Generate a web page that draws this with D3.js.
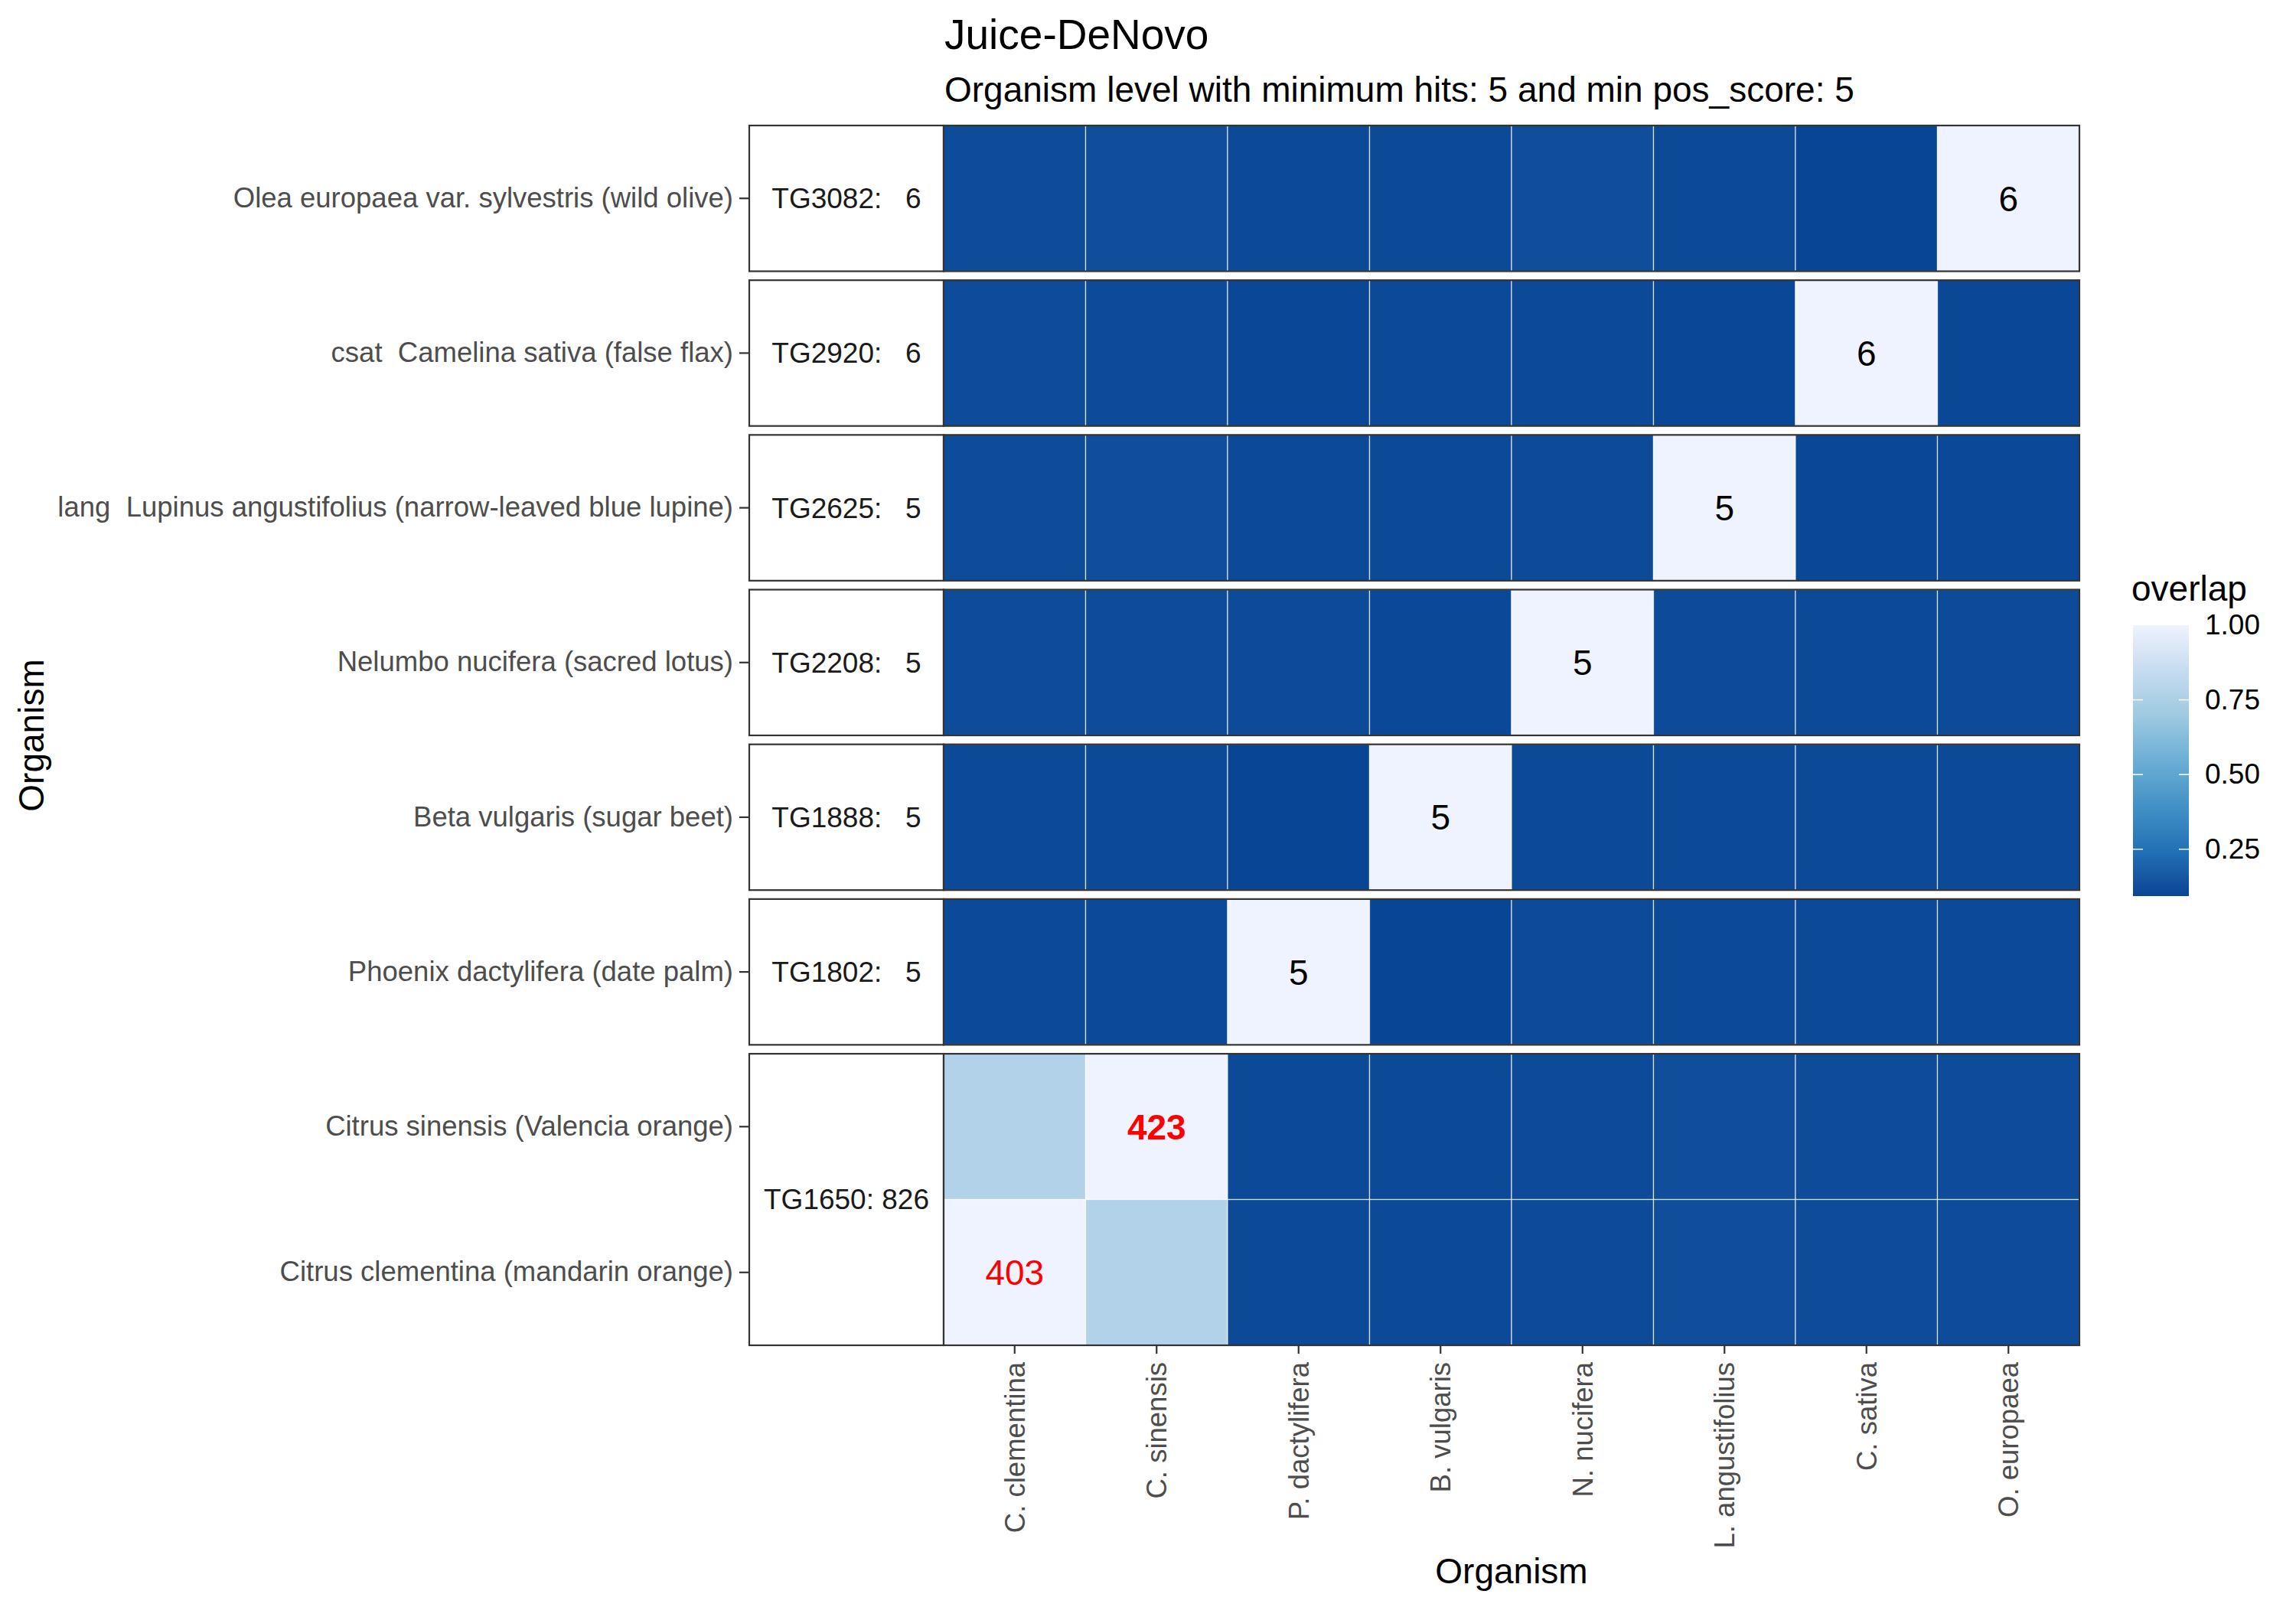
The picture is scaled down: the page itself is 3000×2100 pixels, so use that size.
<!DOCTYPE html>
<html>
<head>
<meta charset="utf-8">
<script src="https://cdn.jsdelivr.net/npm/d3@7"></script>
<style>
  body { margin: 0; background: #fff; }
  text { font-family: "Liberation Sans", Arial, sans-serif; }
</style>
</head>
<body>
<svg id="chart" width="3000" height="2100"></svg>
<script>
// columns (x axis)
const cols = ["C. clementina", "C. sinensis", "P. dactylifera", "B. vulgaris",
              "N. nucifera", "L. angustifolius", "C. sativa", "O. europaea"];

// rows, top to bottom
const rows = ["Olea europaea var. sylvestris (wild olive)",
              "csat  Camelina sativa (false flax)",
              "lang  Lupinus angustifolius (narrow-leaved blue lupine)",
              "Nelumbo nucifera (sacred lotus)",
              "Beta vulgaris (sugar beet)",
              "Phoenix dactylifera (date palm)",
              "Citrus sinensis (Valencia orange)",
              "Citrus clementina (mandarin orange)"];
const rowGroup = ["TG3082", "TG2920", "TG2625", "TG2208", "TG1888", "TG1802", "TG1650", "TG1650"];
const rowHits  = [6, 6, 5, 5, 5, 5, 423, 403];

const groups    = ["TG3082", "TG2920", "TG2625", "TG2208", "TG1888", "TG1802", "TG1650"];
const groupHits = [6, 6, 5, 5, 5, 5, 826];

// overlap, one array per row
const overlap = [
  [0.118, 0.126, 0.108, 0.108, 0.126, 0.108, 0.093, 1.000],
  [0.118, 0.113, 0.100, 0.108, 0.108, 0.100, 1.000, 0.099],
  [0.118, 0.126, 0.108, 0.108, 0.113, 1.000, 0.099, 0.105],
  [0.118, 0.118, 0.113, 0.105, 1.000, 0.113, 0.108, 0.113],
  [0.108, 0.108, 0.093, 1.000, 0.108, 0.108, 0.108, 0.108],
  [0.108, 0.108, 1.000, 0.093, 0.113, 0.108, 0.108, 0.108],
  [0.770, 1.000, 0.108, 0.108, 0.113, 0.126, 0.118, 0.118],
  [1.000, 0.770, 0.108, 0.108, 0.113, 0.126, 0.118, 0.118]
];
const legendTicks = [0.25, 0.50, 0.75, 1.00];

const title = "Juice-DeNovo";
const subtitle = "Organism level with minimum hits: 5 and min pos_score: 5";
const axisTitle = "Organism";

// layout
const pLeft = 1233, pRight = 2717, pTop = 164, pBottom = 1758;
const stripX = 979, gap = 11.7;
const fontTick = 36.5, fontStrip = 37, fontTitle = 46, fontLabel = 46;

const svg = d3.select("#chart");

const flat = overlap.flat();
const vmin = d3.min(flat), vmax = d3.max(flat);
const blues = ["#084594", "#2171B5", "#4292C6", "#6BAED6", "#9ECAE1", "#C6DBEF", "#EFF3FF"];
const color = d3.scaleLinear()
  .domain(blues.map((c, i) => vmin + (vmax - vmin) * i / (blues.length - 1)))
  .range(blues)
  .interpolate(d3.interpolateLab);

const x = d3.scaleBand().domain(cols).range([pLeft, pRight]);

const unit = (pBottom - pTop - gap * (groups.length - 1)) / rows.length;
let cursor = pTop;
const panels = groups.map((g, gi) => {
  const members = rows.filter((r, i) => rowGroup[i] === g);
  const y0 = cursor, y1 = cursor + members.length * unit;
  cursor = y1 + gap;
  return { g, hits: groupHits[gi], members, y0, y1,
           y: d3.scaleBand().domain(members).range([y0, y1]) };
});

panels.forEach(p => {
  const gp = svg.append("g");

  // strip box on the left
  gp.append("rect")
    .attr("x", stripX).attr("y", p.y0)
    .attr("width", pLeft - stripX).attr("height", p.y1 - p.y0)
    .attr("fill", "#fff").attr("stroke", "#333333").attr("stroke-width", 2.2);
  gp.append("text")
    .attr("x", (stripX + pLeft) / 2).attr("y", (p.y0 + p.y1) / 2)
    .attr("dy", "0.35em").attr("text-anchor", "middle")
    .attr("xml:space", "preserve").style("white-space", "pre")
    .attr("font-size", fontStrip).attr("fill", "#1A1A1A")
    .text(`${p.g}: ${String(p.hits).padStart(3, " ")}`);

  // tiles
  const cells = [];
  p.members.forEach(r => {
    const ri = rows.indexOf(r);
    cols.forEach((c, ci) => cells.push({ r, c, v: overlap[ri][ci], hits: rowHits[ri] }));
  });
  gp.selectAll("rect.tile").data(cells).join("rect")
    .attr("class", "tile")
    .attr("x", d => x(d.c)).attr("y", d => p.y(d.r))
    .attr("width", x.bandwidth()).attr("height", p.y.bandwidth())
    .attr("fill", d => color(d.v))
    .attr("stroke", "#fff").attr("stroke-opacity", 0.7).attr("stroke-width", 1.3);

  // hit counts on the self cells
  const multi = p.members.length > 1;
  const best = d3.max(cells, d => d.hits);
  gp.selectAll("text.lab").data(cells.filter(d => d.v === 1)).join("text")
    .attr("class", "lab")
    .attr("x", d => x(d.c) + x.bandwidth() / 2)
    .attr("y", d => p.y(d.r) + p.y.bandwidth() / 2)
    .attr("dy", "0.36em").attr("text-anchor", "middle")
    .attr("font-size", fontLabel)
    .attr("fill", multi ? "#FF0000" : "#000")
    .attr("font-weight", d => multi && d.hits === best ? "bold" : "normal")
    .text(d => d.hits);

  // panel border
  gp.append("rect")
    .attr("x", pLeft).attr("y", p.y0)
    .attr("width", pRight - pLeft).attr("height", p.y1 - p.y0)
    .attr("fill", "none").attr("stroke", "#333333").attr("stroke-width", 2.2);

  // y axis (left of the strip)
  const ya = gp.append("g")
    .attr("transform", `translate(${stripX - 1},0)`)
    .call(d3.axisLeft(p.y).tickSize(12).tickPadding(8));
  ya.select(".domain").remove();
  ya.selectAll("line").attr("stroke", "#333333").attr("stroke-width", 2.2);
  ya.selectAll("text")
    .attr("xml:space", "preserve").style("white-space", "pre")
    .attr("font-size", fontTick).attr("fill", "#4D4D4D")
    .attr("font-family", "Liberation Sans, Arial, sans-serif");
});

// x axis
const xa = svg.append("g")
  .attr("transform", `translate(0,${pBottom})`)
  .call(d3.axisBottom(x).tickSize(11).tickPadding(8));
xa.select(".domain").remove();
xa.selectAll("line").attr("stroke", "#333333").attr("stroke-width", 2.2);
xa.selectAll("text")
  .attr("transform", "rotate(-90)")
  .attr("x", -22).attr("y", 0).attr("dy", "0.35em")
  .attr("text-anchor", "end")
  .attr("font-size", fontTick).attr("fill", "#4D4D4D")
  .attr("font-family", "Liberation Sans, Arial, sans-serif");

// titles
svg.append("text").attr("x", 1234).attr("y", 64)
  .attr("font-size", 55).attr("fill", "#000").text(title);
svg.append("text").attr("x", 1234).attr("y", 133)
  .attr("font-size", fontTitle).attr("fill", "#000").text(subtitle);
svg.append("text").attr("x", (pLeft + pRight) / 2).attr("y", 2069)
  .attr("text-anchor", "middle").attr("font-size", fontTitle).attr("fill", "#000")
  .text(axisTitle);
svg.append("text")
  .attr("transform", `translate(${57},${(pTop + pBottom) / 2}) rotate(-90)`)
  .attr("text-anchor", "middle").attr("font-size", fontTitle).attr("fill", "#000")
  .text(axisTitle);

// legend
const lgX = 2787, lgW = 73, lgTop = 817, lgBottom = 1171;
const ly = d3.scaleLinear().domain([vmin, vmax]).range([lgBottom, lgTop]);
const grad = svg.append("defs").append("linearGradient")
  .attr("id", "lg").attr("x1", 0).attr("y1", 1).attr("x2", 0).attr("y2", 0);
d3.range(0, 1.0001, 0.02).forEach(t => {
  grad.append("stop").attr("offset", t).attr("stop-color", color(vmin + t * (vmax - vmin)));
});
const lg = svg.append("g");
lg.append("text").attr("x", lgX - 2).attr("y", 785)
  .attr("font-size", fontTitle).attr("fill", "#000").text("overlap");
lg.append("rect").attr("x", lgX).attr("y", lgTop)
  .attr("width", lgW).attr("height", lgBottom - lgTop).attr("fill", "url(#lg)");
const la = lg.append("g")
  .attr("transform", `translate(${lgX + lgW},0)`)
  .call(d3.axisRight(ly).tickValues(legendTicks).tickFormat(d3.format(".2f"))
    .tickSize(0).tickPadding(21));
la.select(".domain").remove();
la.selectAll("text").attr("font-size", fontStrip).attr("fill", "#000")
  .attr("font-family", "Liberation Sans, Arial, sans-serif");
lg.selectAll("line.tk").data(legendTicks.filter(t => t < 1)).join("line")
  .attr("class", "tk")
  .attr("x1", lgX).attr("x2", lgX + 13)
  .attr("y1", d => ly(d)).attr("y2", d => ly(d))
  .attr("stroke", "#fff").attr("stroke-width", 1.5);
lg.selectAll("line.tk2").data(legendTicks.filter(t => t < 1)).join("line")
  .attr("class", "tk2")
  .attr("x1", lgX + lgW - 13).attr("x2", lgX + lgW)
  .attr("y1", d => ly(d)).attr("y2", d => ly(d))
  .attr("stroke", "#fff").attr("stroke-width", 1.5);
</script>
</body>
</html>
